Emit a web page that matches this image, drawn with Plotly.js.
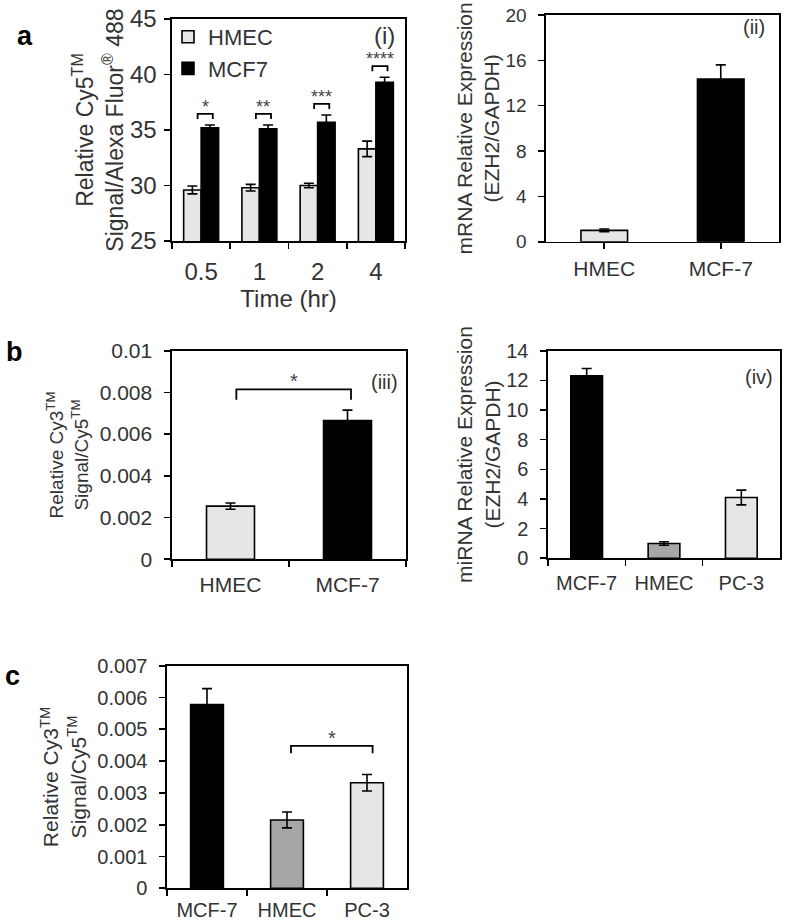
<!DOCTYPE html>
<html><head><meta charset="utf-8">
<script src="https://cdn.plot.ly/plotly-3.0.1.min.js"></script>
<style>html,body{margin:0;padding:0;background:#fff}#chart{width:787px;height:923px}</style>
</head><body><div id="chart"></div>
<script>
// ---------- data ----------
const timeCats = ['0.5', '1', '2', '4'];
const hmecSignal = [29.6, 29.8, 30.0, 33.3];
const hmecSignalErr = [0.35, 0.3, 0.2, 0.7];
const mcf7Signal = [35.2, 35.1, 35.7, 39.3];
const mcf7SignalErr = [0.25, 0.35, 0.65, 0.45];
const timeStars = ['*', '**', '***', '****'];

const mrnaCats = ['HMEC', 'MCF-7'];
const mrnaVals = [1.0, 14.35];
const mrnaErr = [0.12, 1.25];

const cy3Cats = ['HMEC', 'MCF-7'];
const cy3Vals = [0.00255, 0.00665];
const cy3Err = [0.00015, 0.0005];
const cy3Pair = [0, 1];
const cy3Star = '*';

const mirnaCats = ['MCF-7', 'HMEC', 'PC-3'];
const mirnaVals = [12.3, 1.0, 4.1];
const mirnaErr = [0.5, 0.12, 0.5];

const cellCats = ['MCF-7', 'HMEC', 'PC-3'];
const cellVals = [0.00578, 0.00215, 0.00332];
const cellErr = [0.0005, 0.00025, 0.00026];
const cellPair = [1, 2];
const cellStar = '*';

// ---------- styles ----------
const FONT = 'Liberation Sans, Arial, Helvetica, sans-serif';
const TXT = '#333';
const LIGHT = '#e6e6e6', MID = '#a6a6a6', DARK = '#000000';
const W = 787, H = 923;
const px = v => v / W;
const py = v => 1 - v / H;

function errBar(arr, w) {
  return {type: 'data', array: arr, visible: true, color: '#000', thickness: 1.6, width: w};
}
function bar(x, y, err, colors, xa, ya, width, extra) {
  return Object.assign({
    type: 'bar', x: x, y: y, xaxis: xa, yaxis: ya, width: width,
    marker: {color: colors, line: {color: '#000', width: 1.6}},
    error_y: errBar(err, 5), showlegend: false, hoverinfo: 'x+y'
  }, extra || {});
}

const traces = [
  bar(timeCats, hmecSignal, hmecSignalErr, LIGHT, 'x', 'y', 0.3, {offset: -0.3, name: 'HMEC', showlegend: true}),
  bar(timeCats, mcf7Signal, mcf7SignalErr, DARK, 'x', 'y', 0.3, {offset: 0, name: 'MCF7', showlegend: true}),
  bar(mrnaCats, mrnaVals, mrnaErr, [LIGHT, DARK], 'x2', 'y2', 0.4),
  bar(cy3Cats, cy3Vals, cy3Err, [LIGHT, DARK], 'x3', 'y3', 0.41),
  bar(mirnaCats, mirnaVals, mirnaErr, [DARK, MID, LIGHT], 'x4', 'y4', 0.41),
  bar(cellCats, cellVals, cellErr, [DARK, MID, LIGHT], 'x5', 'y5', 0.41)
];

function xAx(domain, anchor, fsize, tickson, lblOff, extra) {
  return Object.assign({
    domain: domain, anchor: anchor, type: 'category',
    showline: true, mirror: true, linecolor: '#000', linewidth: 1.6,
    ticks: 'outside', ticklen: 6, tickwidth: 1.6, tickcolor: '#000',
    tickson: tickson, ticklabelstandoff: lblOff, showgrid: false, zeroline: false, fixedrange: true,
    tickfont: {family: FONT, size: fsize, color: TXT}, automargin: false
  }, extra || {});
}
function yAx(domain, anchor, range, dtick, fsize, lblOff, title, tsize, standoff) {
  return {
    domain: domain, anchor: anchor, range: range, dtick: dtick, tick0: range[0],
    showline: true, mirror: true, linecolor: '#000', linewidth: 1.6,
    ticks: 'outside', ticklen: 6, tickwidth: 1.6, tickcolor: '#000',
    ticklabelstandoff: lblOff,
    showgrid: false, zeroline: false, fixedrange: true,
    tickfont: {family: FONT, size: fsize, color: TXT}, automargin: false,
    title: {text: title, font: {family: FONT, size: tsize, color: TXT}, standoff: standoff}
  };
}

const layout = {
  width: W, height: H, margin: {l: 0, r: 0, t: 0, b: 0},
  paper_bgcolor: '#fff', plot_bgcolor: '#fff',
  barmode: 'overlay', font: {family: FONT, color: TXT},
  showlegend: true,
  legend: {x: px(168), y: py(16), xanchor: 'left', yanchor: 'top',
           font: {family: FONT, size: 22, color: TXT}, bgcolor: 'rgba(0,0,0,0)',
           tracegroupgap: 0, itemwidth: 30},
  xaxis: xAx([px(172), px(405)], 'y', 24, 'boundaries', 9,
             {title: {text: 'Time (hr)', font: {family: FONT, size: 24, color: TXT}, standoff: 5}}),
  yaxis: yAx([py(241), py(19)], 'x', [25, 45], 5, 24, 3,
             'Relative Cy5<sup>TM</sup><br>Signal/Alexa Fluor<sup>®</sup> 488', 23, 0),
  xaxis2: xAx([px(546), px(779)], 'y2', 21, 'labels', 1),
  yaxis2: yAx([py(241.7), py(15)], 'x2', [0, 20], 4, 19, 8,
              'mRNA Relative Expression<br>(EZH2/GAPDH)', 21, 0),
  xaxis3: xAx([px(172), px(406)], 'y3', 21, 'boundaries', 6),
  yaxis3: yAx([py(559.3), py(350.7)], 'x3', [0, 0.01], 0.002, 21, 8,
              'Relative Cy3<sup>TM</sup><br>Signal/Cy5<sup>TM</sup>', 19, 6),
  xaxis4: xAx([px(548), px(780)], 'y4', 20, 'boundaries', 6),
  yaxis4: yAx([py(558.3), py(350.7)], 'x4', [0, 14], 2, 20, 8,
              'miRNA Relative Expression<br>(EZH2/GAPDH)', 21, 0),
  xaxis5: xAx([px(167), px(407)], 'y5', 20, 'boundaries', 3),
  yaxis5: yAx([py(888.3), py(665.7)], 'x5', [0, 0.007], 0.001, 20, 8,
              'Relative Cy3<sup>TM</sup><br>Signal/Cy5<sup>TM</sup>', 21, 5),
  shapes: [], annotations: []
};

// brackets + stars
function bracket(xa, ya, x0, x1, y, leg, star, fsize) {
  layout.shapes.push({type: 'path', xref: xa, yref: ya,
    path: `M ${x0},${y - leg} L ${x0},${y} L ${x1},${y} L ${x1},${y - leg}`,
    line: {color: '#000', width: 1.8}});
  layout.annotations.push({xref: xa, yref: ya, x: (x0 + x1) / 2, y: y, text: star,
    showarrow: false, yanchor: 'bottom', yshift: -5,
    font: {family: FONT, size: fsize, color: '#444'}});
}
timeCats.forEach((c, i) => {
  const top = Math.max(mcf7Signal[i] + mcf7SignalErr[i], hmecSignal[i] + hmecSignalErr[i]) + 1.0;
  bracket('x', 'y', i - 0.06, i + 0.2, top, 0.45, timeStars[i], 18);
});
{
  const top = Math.max(...cy3Vals.map((v, i) => v + cy3Err[i])) + 0.001;
  bracket('x3', 'y3', cy3Pair[0] + 0.05, cy3Pair[1] + 0.03, top, 0.0005, cy3Star, 20);
}
{
  const top = Math.max(...cellPair.map(i => cellVals[i] + cellErr[i])) + 0.0009;
  bracket('x5', 'y5', cellPair[0] + 0.05, cellPair[1] + 0.07, top, 0.00023, cellStar, 20);
}

// panel labels
function paperText(x, y, text, size, bold, anchor) {
  layout.annotations.push({xref: 'paper', yref: 'paper', x: px(x), y: py(y), text: bold ? '<b>' + text + '</b>' : text,
    showarrow: false, xanchor: anchor || 'center', yanchor: 'middle',
    font: {family: FONT, size: size, color: bold ? '#000' : TXT}});
}
paperText(25, 36, 'a', 27, true);
paperText(14, 352, 'b', 27, true);
paperText(12, 676, 'c', 27, true);
paperText(397, 35, '(i)', 24, false, 'right');
paperText(767, 27, '(ii)', 20, false, 'right');
paperText(400, 382, '(iii)', 20, false, 'right');
paperText(775, 377, '(iv)', 20, false, 'right');

Plotly.newPlot('chart', traces, layout, {staticPlot: true, displayModeBar: false});
</script>
</body></html>
